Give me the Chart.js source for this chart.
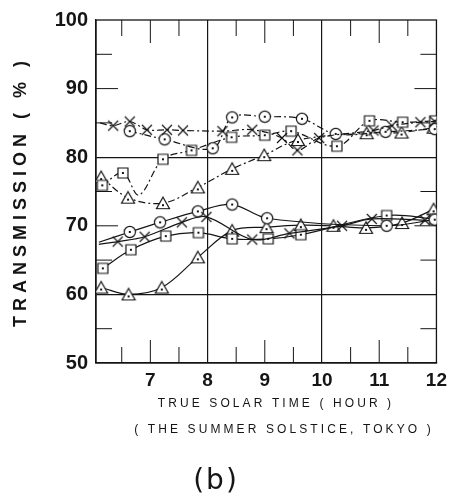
<!DOCTYPE html>
<html><head><meta charset="utf-8">
<script src="https://cdn.jsdelivr.net/npm/chart.js@4/dist/chart.umd.min.js"></script>
<style>html,body{margin:0;padding:0;background:#fff}</style>
</head><body>
<canvas id="c" width="453" height="500"></canvas>
<script>
// ---- data ----
const xTickLabels = [7, 8, 9, 10, 11, 12];
const yTickLabels = [50, 60, 70, 80, 90, 100];
const xMinorTicks = [6.5, 7, 7.5, 8.5, 9, 9.5, 10.5, 11, 11.5];
const yMinorTicks = [55, 65, 70, 75, 85, 90, 95];

// upper group (dash-dot lines)
const upCrossHour = [6.12, 6.35, 6.64, 6.94, 7.29, 7.57, 8.26, 8.78, 9.30, 9.57, 9.95, 10.9, 11.22, 11.72, 11.97];
const upCrossVal  = [85.0, 84.6, 85.2, 84.0, 84.0, 83.9, 83.8, 84.0, 82.8, 81.0, 82.8, 83.9, 84.6, 85.1, 85.2];
const upCrossMark = [0, 1, 1, 1, 1, 1, 1, 1, 1, 1, 1, 1, 1, 1, 1];
const upCircHour  = [6.64, 7.25, 8.09, 8.43, 9.0, 9.65, 10.24, 11.11, 11.97];
const upCircVal   = [83.8, 82.6, 81.3, 85.8, 85.9, 85.6, 83.4, 83.7, 84.1];
const upSqHour    = [6.16, 6.52, 6.8, 7.22, 7.72, 8.42, 9.0, 9.46, 10.26, 10.83, 11.41, 11.97];
const upSqVal     = [75.9, 77.7, 74.5, 79.7, 81.0, 82.9, 83.2, 83.8, 81.6, 85.3, 85.1, 85.3];
const upSqMark    = [1, 1, 0, 1, 1, 1, 1, 1, 1, 1, 1, 1];
const upTriHour   = [6.14, 6.61, 7.22, 7.83, 8.43, 8.99, 9.58, 10.78, 11.39, 11.95];
const upTriVal    = [77.1, 74.1, 73.3, 75.6, 78.3, 80.3, 82.5, 83.5, 83.6, 84.3];

// lower group (solid lines)
const loCrossHour = [6.1, 6.43, 6.9, 7.55, 7.98, 8.78, 9.43, 10.35, 10.87, 11.8];
const loCrossVal  = [67.3, 67.7, 68.4, 70.5, 71.3, 68.0, 68.9, 70.0, 71.0, 70.8];
const loCrossMark = [0, 1, 1, 1, 1, 1, 1, 1, 1, 1];
const loCircHour  = [6.1, 6.64, 7.17, 7.83, 8.43, 9.04, 11.13, 11.97];
const loCircVal   = [67.6, 69.1, 70.5, 72.1, 73.1, 71.1, 70.0, 70.9];
const loCircMark  = [0, 1, 1, 1, 1, 1, 1, 1];
const loSqHour    = [6.17, 6.66, 7.27, 7.84, 8.43, 9.06, 9.63, 11.13, 11.97];
const loSqVal     = [63.8, 66.5, 68.5, 69.0, 68.1, 68.1, 68.7, 71.5, 71.0];
const loTriHour   = [6.14, 6.62, 7.2, 7.83, 8.43, 9.03, 9.63, 10.2, 10.77, 11.4, 11.95];
const loTriVal    = [61.0, 60.0, 61.0, 65.4, 69.3, 69.8, 70.1, 70.0, 69.7, 70.4, 72.4];

// ---- marker images ----
const INK = '#151515';
function marker(kind) {
  const s = 16, c = document.createElement('canvas');
  c.width = s; c.height = s;
  const g = c.getContext('2d');
  g.strokeStyle = INK; g.fillStyle = '#fff'; g.lineWidth = 1.2;
  g.beginPath();
  if (kind === 'circle') { g.arc(8, 8, 5.6, 0, Math.PI * 2); }
  else if (kind === 'square') { g.rect(3, 3, 10, 10); }
  else if (kind === 'triangle') { g.moveTo(8, 2); g.lineTo(14.5, 13.5); g.lineTo(1.5, 13.5); g.closePath(); }
  if (kind === 'cross') {
    g.moveTo(3, 3); g.lineTo(13, 13); g.moveTo(3, 13); g.lineTo(13, 3); g.stroke();
  } else {
    g.fill(); g.stroke();
    g.fillStyle = INK; g.fillRect(7, kind === 'triangle' ? 9 : 7, 2, 2);
  }
  return c;
}
const M = { cross: marker('cross'), circle: marker('circle'), square: marker('square'), triangle: marker('triangle') };

const DASHDOT = [7, 3, 2, 3];
function series(hours, vals, kind, dash, marked) {
  return {
    data: hours.map((h, i) => ({ x: h, y: vals[i] })),
    borderColor: INK, borderWidth: 1.2, borderDash: dash,
    pointStyle: M[kind],
    pointRadius: marked ? marked.map(m => m ? 5 : 0) : 5,
    tension: 0.35, fill: false
  };
}

const datasets = [
  series(upCrossHour, upCrossVal, 'cross', DASHDOT, upCrossMark),
  series(upCircHour, upCircVal, 'circle', DASHDOT),
  series(upSqHour, upSqVal, 'square', DASHDOT, upSqMark),
  series(upTriHour, upTriVal, 'triangle', DASHDOT),
  series(loCrossHour, loCrossVal, 'cross', [], loCrossMark),
  series(loCircHour, loCircVal, 'circle', [], loCircMark),
  series(loSqHour, loSqVal, 'square', []),
  series(loTriHour, loTriVal, 'triangle', [])
];

// ---- frame, inner ticks and texts ----
const decor = {
  id: 'decor',
  beforeDatasetsDraw(chart) {
    const { ctx, chartArea: a, scales: { x, y } } = chart;
    ctx.save();
    ctx.strokeStyle = INK; ctx.lineWidth = 1.3;
    ctx.strokeRect(a.left, a.top, a.right - a.left, a.bottom - a.top);
    ctx.lineWidth = 1;
    xMinorTicks.forEach(v => {
      const px = x.getPixelForValue(v);
      const len = Number.isInteger(v) ? 23 : 16;
      ctx.beginPath();
      ctx.moveTo(px, a.top); ctx.lineTo(px, a.top + len);
      ctx.moveTo(px, a.bottom); ctx.lineTo(px, a.bottom - len);
      ctx.stroke();
    });
    yMinorTicks.forEach(v => {
      const py = y.getPixelForValue(v);
      const len = v % 10 === 0 ? 22 : 16;
      ctx.beginPath();
      ctx.moveTo(a.left, py); ctx.lineTo(a.left + len, py);
      ctx.moveTo(a.right, py); ctx.lineTo(a.right - len, py);
      ctx.stroke();
    });
    ctx.restore();
  },
  afterDraw(chart) {
    const { ctx, chartArea: a } = chart;
    ctx.save();
    ctx.fillStyle = INK;
    ctx.textAlign = 'center'; ctx.textBaseline = 'middle';
    // y title
    ctx.save();
    ctx.translate(21, (a.top + a.bottom) / 2);
    ctx.rotate(-Math.PI / 2);
    ctx.font = 'bold 18px "Liberation Sans", Arial, sans-serif';
    ctx.letterSpacing = '5px';
    ctx.fillText('TRANSMISSION ( % )', 0, 0);
    ctx.restore();
    // x titles
    ctx.font = '12px "Liberation Sans", Arial, sans-serif';
    ctx.letterSpacing = '3.1px';
    ctx.fillText('TRUE SOLAR TIME ( HOUR )', 276, 404);
    ctx.fillText('( THE SUMMER SOLSTICE, TOKYO )', 284, 430);
    ctx.font = '28px "DejaVu Sans", sans-serif';
    ctx.letterSpacing = '2px';
    ctx.fillText('(b)', 216, 482);
    ctx.restore();
  }
};

new Chart(document.getElementById('c'), {
  type: 'line',
  data: { datasets },
  plugins: [decor],
  options: {
    responsive: false, animation: false, events: [],
    layout: { padding: { top: 15, right: 14, left: 0, bottom: 0 } },
    plugins: { legend: { display: false }, tooltip: { enabled: false } },
    scales: {
      x: {
        type: 'linear', min: 6.05, max: 12,
        afterBuildTicks: s => { s.ticks = xTickLabels.map(v => ({ value: v })); },
        afterFit: s => { s.height = 137; },
        grid: { drawTicks: false, lineWidth: 1.2, color: c => (c.tick && (c.tick.value === 8 || c.tick.value === 10)) ? INK : 'rgba(0,0,0,0)' },
        border: { display: true, color: INK, width: 1.3 },
        ticks: { padding: 6, color: INK, font: { size: 19, weight: 'bold', family: '"Liberation Sans", Arial, sans-serif' }, maxRotation: 0, callback: v => String(v) }
      },
      y: {
        min: 50, max: 100,
        afterBuildTicks: s => { s.ticks = yTickLabels.map(v => ({ value: v })); },
        afterFit: s => { s.width = 96; },
        grid: { drawTicks: false, lineWidth: 1.2, color: c => (c.tick && (c.tick.value === 60 || c.tick.value === 80)) ? INK : 'rgba(0,0,0,0)' },
        border: { display: true, color: INK, width: 1.3 },
        ticks: { padding: 8, color: INK, font: { size: 20, weight: 'bold', family: '"Liberation Sans", Arial, sans-serif' }, callback: v => String(v) }
      }
    }
  }
});
</script>
</body></html>
